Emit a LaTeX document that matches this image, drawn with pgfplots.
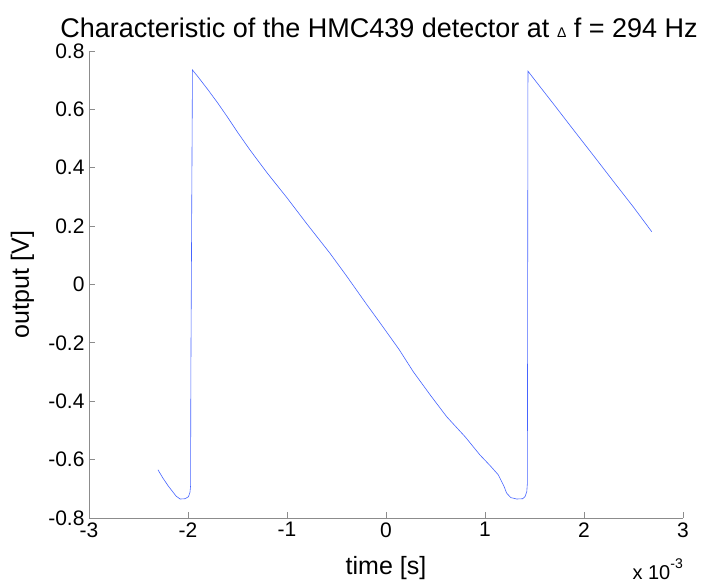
\documentclass[border=0pt]{standalone}
\usepackage{pgfplots}
\pgfplotsset{compat=1.18}
\usepackage{fontspec}
\setmainfont{Liberation Sans}
\definecolor{trace}{RGB}{70,100,255}
\definecolor{axgray}{RGB}{140,140,140}
\begin{document}
\begin{tikzpicture}
\useasboundingbox (-89pt,-67pt) rectangle (615pt,518pt);
\begin{axis}[
    at={(0pt,0pt)}, anchor=south west,
    scale only axis,
    width=594pt, height=467pt,
    xmin=-3, xmax=3,
    ymin=-0.8, ymax=0.8,
    axis lines=left,
    axis line style={axgray, line width=0.8pt, -},
    tick style={axgray, line width=0.8pt},
    tick align=inside,
    major tick length=6pt,
    xtick={-3,-2,-1,0,1,2,3},
    xticklabels={-3,-2,-1,0,1,2,3},
    ytick={-0.8,-0.6,-0.4,-0.2,0,0.2,0.4,0.6,0.8},
    yticklabels={-0.8,-0.6,-0.4,-0.2,0,0.2,0.4,0.6,0.8},
    ticklabel style={font=\fontsize{21}{21}\selectfont},
    xticklabel style={yshift=-1pt},
    yticklabel style={xshift=-1pt},
    /pgf/number format/assume math mode=true,
    xlabel={time [s]},
    ylabel={output [V]},
    every axis x label/.style={at={(axis description cs:0.5,0)}, anchor=base, yshift=-57pt, font=\fontsize{25}{25}\selectfont},
    every axis y label/.style={at={(axis description cs:0,0.5)}, anchor=base, xshift=-60pt, rotate=90, font=\fontsize{25}{25}\selectfont},
    title={Characteristic of the HMC439 detector at {\fontsize{14}{14}\selectfont Δ} f = 294 Hz},
    every axis title/.style={at={(axis description cs:0.5,1)}, anchor=base, yshift=13pt, xshift=-7pt, font=\fontsize{27}{27}\selectfont},
    clip=false,
]
\addplot[color=trace, line width=0.6pt] coordinates {
(-2.303,-0.635)(-2.25,-0.665)(-2.2,-0.690)(-2.15,-0.712)(-2.12,-0.725)
(-2.08,-0.735)(-2.03,-0.734)(-1.995,-0.727)(-1.980,-0.712)(-1.974,-0.690)
(-1.971,-0.300)(-1.955,0.735)
(-1.9,0.712)(-1.8,0.668)(-1.7,0.622)(-1.6,0.573)(-1.5,0.522)(-1.374,0.461)
(-1.2,0.382)(-1.0,0.297)(-0.8,0.208)(-0.566,0.107)(-0.4,0.030)(-0.2,-0.066)
(-0.061,-0.131)(0.131,-0.222)(0.276,-0.299)(0.45,-0.380)(0.613,-0.453)
(0.8,-0.522)(0.949,-0.584)(1.05,-0.620)(1.134,-0.652)(1.19,-0.690)
(1.219,-0.715)(1.26,-0.730)(1.32,-0.735)(1.38,-0.734)(1.404,-0.727)
(1.422,-0.710)(1.428,-0.681)(1.431,0.0)(1.434,0.731)
(1.5,0.702)(1.7,0.615)(1.9,0.527)(2.1,0.440)(2.3,0.352)(2.5,0.265)(2.684,0.181)
};
\node[anchor=base east, font=\fontsize{20}{20}\selectfont, inner sep=0pt]
  at (axis description cs:1,0) [yshift=-62pt] {x 10\raisebox{11pt}{\fontsize{14}{14}\selectfont -3}};
\end{axis}
\end{tikzpicture}
\end{document}
